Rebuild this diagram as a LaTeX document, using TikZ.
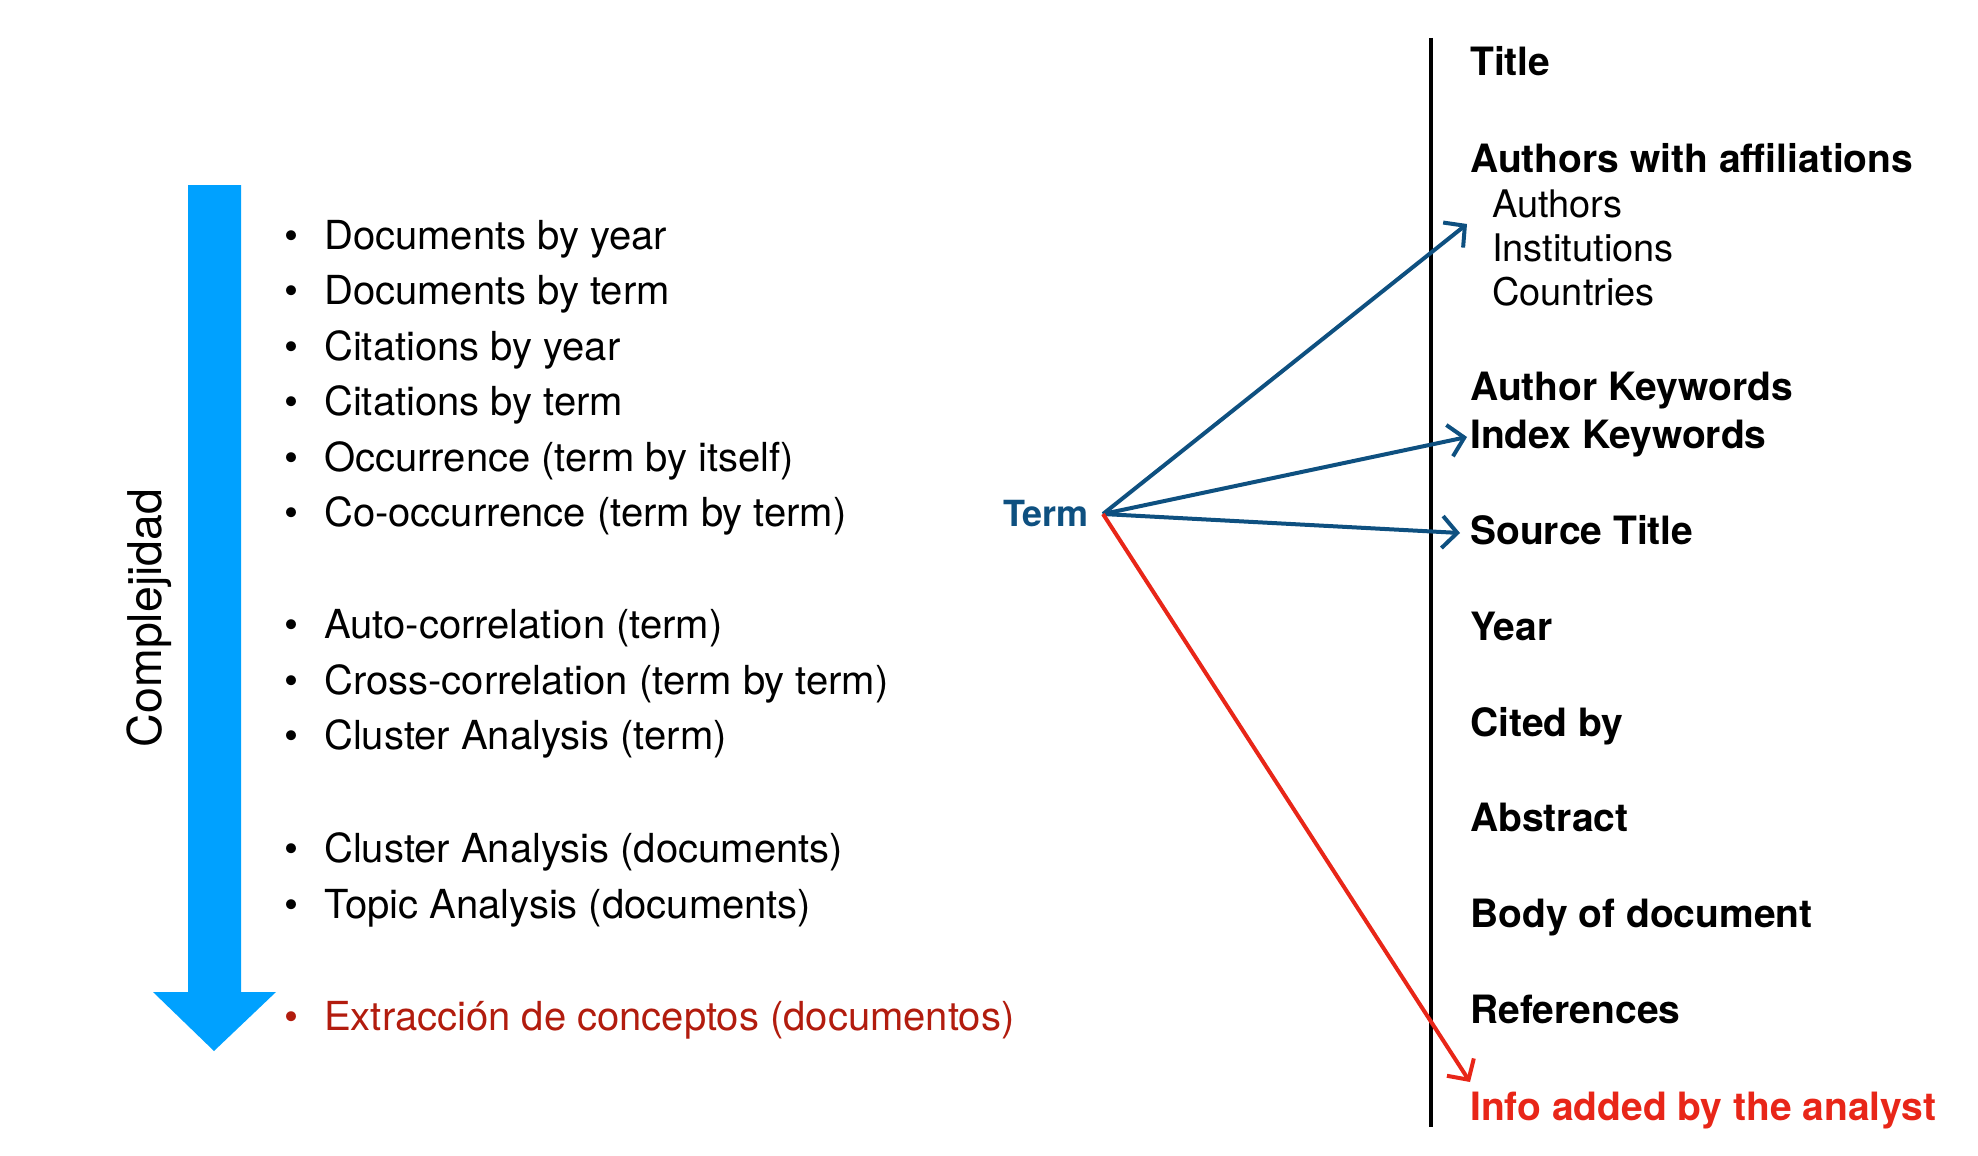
\documentclass[tikz,border=0pt]{standalone}
\usepackage{fontspec}
\setmainfont{TeX Gyre Heros}
\usetikzlibrary{arrows.meta}
\definecolor{bigblue}{RGB}{0,161,255}
\definecolor{termblue}{RGB}{14,80,128}
\definecolor{arrred}{RGB}{232,38,24}
\definecolor{darkred}{RGB}{178,28,14}
\tikzset{
  item/.style={anchor=base west, inner sep=0pt, font=\fontsize{40}{48}\selectfont},
  field/.style={anchor=base west, inner sep=0pt, font=\fontsize{39}{46}\selectfont\bfseries},
  subfield/.style={anchor=base west, inner sep=0pt, font=\fontsize{38}{44}\selectfont},
  link/.style={line width=4pt, -{Straight Barb[length=15pt,width=32pt,line width=4pt]}},
}
\newcommand{\bul}{\llap{•\hspace{26pt}}}
\begin{document}
\begin{tikzpicture}[x=1pt,y=-1pt]
\useasboundingbox (0,0) rectangle (1978,1156);
% complexity arrow
\fill[bigblue] (188,185) -- (241,185) -- (241,992) -- (276,992) -- (214,1051) -- (153,992) -- (188,992) -- cycle;
\node[rotate=90, inner sep=0pt, font=\fontsize{46.5}{52}\selectfont] (compl) at (149,618) {Complejidad};
% list
\node[item] (l1) at (324,249) {\bul Documents by year};
\node[item] (l2) at (324,304) {\bul Documents by term};
\node[item] (l3) at (324,360) {\bul Citations by year};
\node[item] (l4) at (324,415) {\bul Citations by term};
\node[item] (l5) at (324,471) {\bul Occurrence (term by itself)};
\node[item] (l6) at (324,526) {\bul Co-occurrence (term by term)};
\node[item] (l7) at (324,638) {\bul Auto-correlation (term)};
\node[item] (l8) at (324,694) {\bul Cross-correlation (term by term)};
\node[item] (l9) at (324,749) {\bul Cluster Analysis (term)};
\node[item] (l10) at (324,862) {\bul Cluster Analysis (documents)};
\node[item] (l11) at (324,918) {\bul Topic Analysis (documents)};
\node[item, text=darkred] (l12) at (324,1030) {\bul Extracción de conceptos (documentos)};
% vertical rule
\coordinate (vtop) at (1431,38);
\coordinate (vbot) at (1431,1127);
\draw[line width=4.5pt] (vtop) -- (vbot);
% fields
\node[field] (title) at (1470,75) {Title};
\node[field] (awa) at (1470,172) {Authors with affiliations};
\node[subfield] (auth) at (1492,217) {Authors};
\node[subfield] (inst) at (1492,261) {Institutions};
\node[subfield] (coun) at (1492,305) {Countries};
\node[field] (akw) at (1470,400) {Author Keywords};
\node[field] (ikw) at (1470,448) {Index Keywords};
\node[field] (src) at (1470,544) {Source Title};
\node[field] (year) at (1470,640) {Year};
\node[field] (cited) at (1470,736) {Cited by};
\node[field] (abs) at (1470,831) {Abstract};
\node[field] (body) at (1470,927) {Body of document};
\node[field] (refs) at (1470,1023) {References};
\node[field, text=arrred] (info) at (1470,1120) {Info added by the analyst};
% term
\node[anchor=east, inner xsep=14pt, inner ysep=0pt, text=termblue, font=\fontsize{36}{40}\selectfont\bfseries] (term) at (1103,514) {Term};
\coordinate (toaff) at (1467,224);
\coordinate (toikw) at (1467,437);
\coordinate (tosrc) at (1460,533);
\coordinate (toinfo) at (1470,1082);
\draw[link, termblue] (term.east) -- (toaff);
\draw[link, termblue] (term.east) -- (toikw);
\draw[link, termblue] (term.east) -- (tosrc);
\draw[link, arrred] (term.east) -- (toinfo);
\end{tikzpicture}
\end{document}
